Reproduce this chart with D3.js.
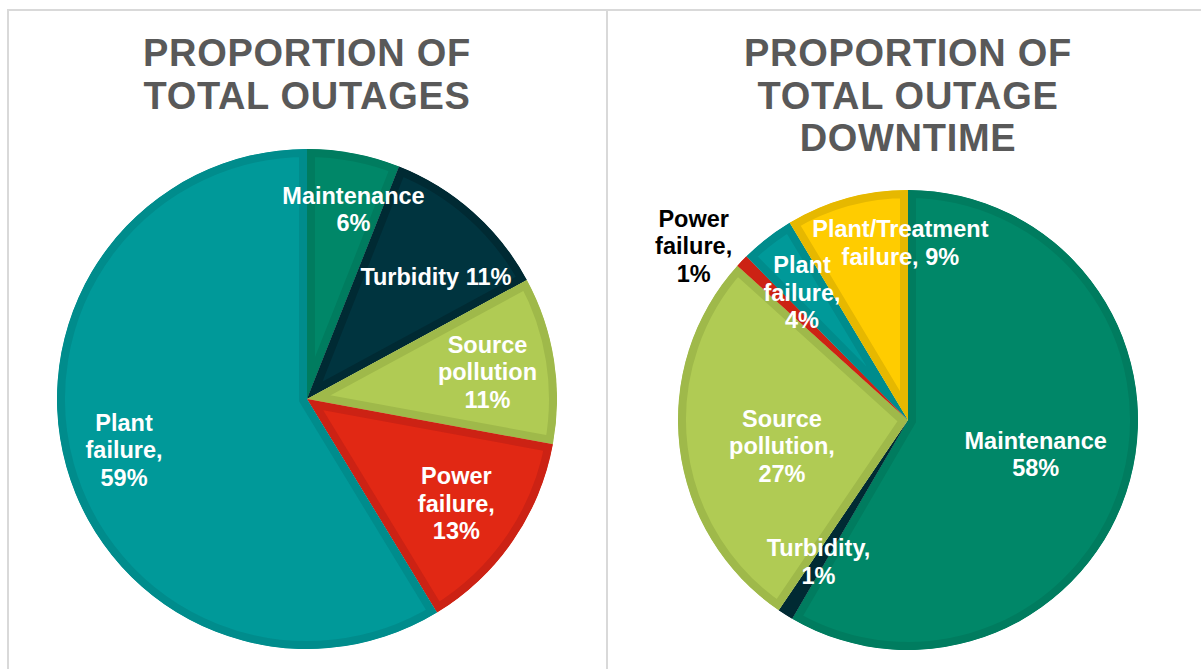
<!DOCTYPE html>
<html>
<head>
<meta charset="utf-8">
<script src="https://cdn.jsdelivr.net/npm/d3@7"></script>
<style>
  html, body { margin: 0; padding: 0; background: #fff; }
  svg text { font-family: "Liberation Sans", Arial, sans-serif; font-weight: bold; }
</style>
</head>
<body>
<div id="chart-area"></div>
<script>
// Data: left pie (share of outage count)
const outageCategories = ["Maintenance", "Turbidity", "Source pollution", "Power failure", "Plant failure"]
const outageValues = [6.0, 11.1, 10.8, 13.4, 58.7]

// Data: right pie (share of outage downtime)
const downtimeCategories = ["Maintenance", "Turbidity", "Source pollution", "Power failure", "Plant failure", "Plant/Treatment failure"]
const downtimeValues = [58.4, 1.1, 27.2, 0.9, 3.8, 8.6]

// Label wording, {p} is replaced by the percentage
const outageLabels = ["Maintenance\n{p}", "Turbidity {p}", "Source\npollution\n{p}", "Power\nfailure,\n{p}", "Plant\nfailure,\n{p}"]
const downtimeLabels = ["Maintenance\n{p}", "Turbidity,\n{p}", "Source\npollution,\n{p}", "Power\nfailure,\n{p}", "Plant\nfailure,\n{p}", "Plant/Treatment\nfailure, {p}"]

// Colours per category: fill and darker inner edge
const fillColor = d3.scaleOrdinal()
  .domain(["Maintenance", "Turbidity", "Source pollution", "Power failure", "Plant failure", "Plant/Treatment failure"])
  .range(["#008768", "#00343f", "#b0cb54", "#e12814", "#009999", "#ffcc00"])
const edgeColor = d3.scaleOrdinal()
  .domain(fillColor.domain())
  .range(["#007c5f", "#002a33", "#9fb94a", "#cc2214", "#008c8c", "#e6b800"])

const WIDTH = 1201
const HEIGHT = 669
const BORDER = "#d9d9d9"

const svg = d3.select("#chart-area").append("svg")
  .attr("width", WIDTH)
  .attr("height", HEIGHT)

// panel frame
svg.append("line").attr("x1", 7).attr("x2", WIDTH).attr("y1", 10).attr("y2", 10)
  .attr("stroke", BORDER).attr("stroke-width", 2)
svg.append("line").attr("x1", 8).attr("x2", 8).attr("y1", 9).attr("y2", HEIGHT)
  .attr("stroke", BORDER).attr("stroke-width", 2)
svg.append("line").attr("x1", 607).attr("x2", 607).attr("y1", 9).attr("y2", HEIGHT)
  .attr("stroke", BORDER).attr("stroke-width", 2)

const defs = svg.append("defs")
const pct = d3.format(".0%")

function drawPie(opts) {
  const { id, cx, cy, radius, title, categories, values, labels, labelPos, labelColor } = opts
  const total = d3.sum(values)

  // title
  const t = svg.append("text")
    .attr("x", cx)
    .attr("y", 66)
    .attr("text-anchor", "middle")
    .attr("font-size", "38px")
    .attr("fill", "#595959")
    .attr("letter-spacing", "0.7px")
  title.forEach((line, i) => {
    t.append("tspan").attr("x", cx).attr("dy", i === 0 ? 0 : 42.5).text(line)
  })

  const pie = d3.pie().sort(null).value(d => d.value)
  const arcs = pie(categories.map((c, i) => ({ cat: c, value: values[i], i })))

  const arc = d3.arc().innerRadius(0).outerRadius(radius)

  const g = svg.append("g").attr("transform", `translate(${cx}, ${cy})`)

  // each slice clipped to itself so the wide stroke shows only on the inside
  arcs.forEach((a, i) => {
    defs.append("clipPath").attr("id", `${id}-clip-${i}`)
      .append("path").attr("d", arc(a))
  })

  g.selectAll("path.slice")
    .data(arcs)
    .enter().append("path")
    .attr("class", "slice")
    .attr("d", arc)
    .attr("fill", d => fillColor(d.data.cat))
    .attr("stroke", d => edgeColor(d.data.cat))
    .attr("stroke-width", 16)
    .attr("stroke-linejoin", "miter")
    .attr("clip-path", (d, i) => `url(#${id}-clip-${i})`)

  // labels
  arcs.forEach((a, i) => {
    const [rf, nudge] = labelPos[i]
    const ang = (a.startAngle + a.endAngle) / 2 + nudge * Math.PI / 180
    const r = radius * rf
    const lx = Math.sin(ang) * r
    const ly = -Math.cos(ang) * r
    const lines = labels[i].replace("{p}", pct(a.data.value / total)).split("\n")
    const lh = 27.5
    const txt = g.append("text")
      .attr("text-anchor", "middle")
      .attr("font-size", "23.5px")
      .attr("fill", labelColor[i])
    lines.forEach((line, k) => {
      txt.append("tspan")
        .attr("x", lx)
        .attr("y", ly + (k - (lines.length - 1) / 2) * lh + 8)
        .text(line)
    })
  })
}

drawPie({
  id: "outages",
  cx: 307, cy: 399, radius: 250,
  title: ["PROPORTION OF", "TOTAL OUTAGES"],
  categories: outageCategories,
  values: outageValues,
  labels: outageLabels,
  labelPos: [[0.78, 3], [0.71, 5], [0.73, 0.5], [0.73, 0.5], [0.76, 0]],
  labelColor: ["#fff", "#fff", "#fff", "#fff", "#fff"]
})

drawPie({
  id: "downtime",
  cx: 908, cy: 420, radius: 230,
  title: ["PROPORTION OF", "TOTAL OUTAGE", "DOWNTIME"],
  categories: downtimeCategories,
  values: downtimeValues,
  labels: downtimeLabels,
  labelPos: [[0.575, 0], [0.73, 0], [0.56, -5], [1.2, -4.7], [0.72, -2], [0.77, 13]],
  labelColor: ["#fff", "#fff", "#fff", "#000", "#fff", "#fff"]
})
</script>
</body>
</html>
